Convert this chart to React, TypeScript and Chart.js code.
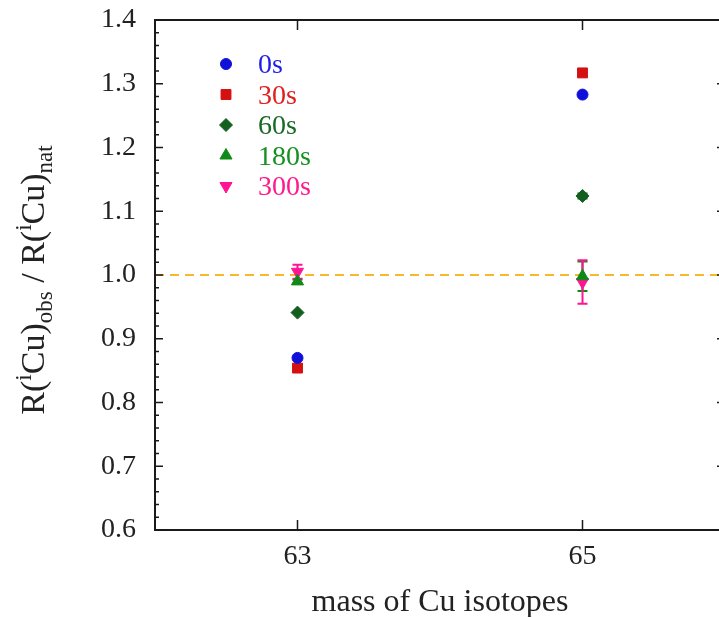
import React, { useEffect, useRef } from 'react';
import { Chart, registerables } from 'chart.js';
import { drawPoint } from 'chart.js/helpers';

Chart.register(...registerables);

// ---------- data ----------
const isotopeMasses = [63, 65];
const seriesLabels = ['0s', '30s', '60s', '180s', '300s'];
const values0s = [0.87, 1.283];
const values30s = [0.854, 1.317];
const values60s = [0.941, 1.124];
const values180s = [0.99, 0.998];
const values300s = [1.005, 0.989];
const errors0s = [0, 0];
const errors30s = [0, 0];
const errors60s = [0, 0.004];
const errors180s = [0.003, 0.023];
const errors300s = [0.011, 0.034];
const yTickValues = [0.6, 0.7, 0.8, 0.9, 1.0, 1.1, 1.2, 1.3, 1.4];
const xTickValues = [63, 65];
const referenceLevel = 1.0;

// ---------- styles ----------
const markerColors = ['#1010d8', '#d41010', '#13601e', '#0f8a17', '#ff1493'];
const textColors = ['#1f1fe6', '#e02020', '#1a6a25', '#169020', '#ff1a8c'];
const pointStyles: any[] = ['circle', 'rect', 'rectRot', 'triangle', 'triangle'];
const pointRotations = [0, 0, 0, 0, 180];
const pointRadii = [5.5, 7, 6.5, 7, 7];
const SERIF = '"Liberation Serif", "Times New Roman", serif';

const seriesValues = [values0s, values30s, values60s, values180s, values300s];
const seriesErrors = [errors0s, errors30s, errors60s, errors180s, errors300s];

const decorPlugin = {
  id: 'decor',
  beforeDatasetsDraw(chart: any) {
    const { ctx, chartArea, scales } = chart;
    const xs = scales.x;
    const ys = scales.y;
    ctx.save();
    const yRef = ys.getPixelForValue(referenceLevel);
    ctx.strokeStyle = '#f7b928';
    ctx.lineWidth = 2;
    ctx.setLineDash([9, 6]);
    ctx.beginPath();
    ctx.moveTo(chartArea.left, yRef);
    ctx.lineTo(chartArea.right, yRef);
    ctx.stroke();
    ctx.setLineDash([]);
    seriesErrors.forEach((errs, si) => {
      errs.forEach((e, i) => {
        if (!e) return;
        const x = xs.getPixelForValue(isotopeMasses[i]);
        const v = seriesValues[si][i];
        const yTop = ys.getPixelForValue(v + e);
        const yBot = ys.getPixelForValue(v - e);
        ctx.strokeStyle = markerColors[si];
        ctx.lineWidth = 2;
        ctx.beginPath();
        ctx.moveTo(x, yTop);
        ctx.lineTo(x, yBot);
        ctx.moveTo(x - 5, yTop);
        ctx.lineTo(x + 5, yTop);
        ctx.moveTo(x - 5, yBot);
        ctx.lineTo(x + 5, yBot);
        ctx.stroke();
      });
    });
    ctx.restore();
  },
  afterDraw(chart: any) {
    const { ctx, chartArea, scales } = chart;
    const { left, right, top, bottom } = chartArea;
    const xs = scales.x;
    const ys = scales.y;
    ctx.save();
    ctx.strokeStyle = '#1a1a1a';
    ctx.lineWidth = 2;
    ctx.strokeRect(left, top, right - left, bottom - top);
    ctx.lineWidth = 1.5;
    ctx.beginPath();
    for (let k = 0; k <= 40; k++) {
      const v = 0.6 + k * 0.02;
      const y = ys.getPixelForValue(v);
      const len = k % 5 === 0 ? 8 : 4;
      ctx.moveTo(left, y);
      ctx.lineTo(left + len, y);
      ctx.moveTo(right, y);
      ctx.lineTo(right - len, y);
    }
    xTickValues.forEach((v) => {
      const x = xs.getPixelForValue(v);
      ctx.moveTo(x, bottom);
      ctx.lineTo(x, bottom - 10);
      ctx.moveTo(x, top);
      ctx.lineTo(x, top + 10);
    });
    ctx.stroke();

    // legend
    ctx.textBaseline = 'middle';
    ctx.textAlign = 'left';
    ctx.font = '28px ' + SERIF;
    seriesLabels.forEach((lab, i) => {
      const y = 64 + i * 30.5;
      const style = {
        pointStyle: pointStyles[i],
        radius: pointRadii[i],
        rotation: pointRotations[i],
        borderWidth: 1,
      };
      ctx.fillStyle = markerColors[i];
      ctx.strokeStyle = markerColors[i];
      ctx.lineWidth = 1;
      drawPoint(ctx, style as any, 226, y);
      ctx.fillStyle = textColors[i];
      ctx.fillText(lab, 258, y + 2);
    });

    // y title with super/subscripts
    const pieces = [
      { t: 'R(', k: 'n' },
      { t: 'i', k: 'sup' },
      { t: 'Cu)', k: 'n' },
      { t: 'obs', k: 'sub' },
      { t: ' / R(', k: 'n' },
      { t: 'i', k: 'sup' },
      { t: 'Cu)', k: 'n' },
      { t: 'nat', k: 'sub' },
    ];
    const fontFor = (k: string) => (k === 'n' ? '34px ' : '23px ') + SERIF;
    const offFor = (k: string) => (k === 'sup' ? -13 : k === 'sub' ? 8 : 0);
    let total = 0;
    pieces.forEach((p) => {
      ctx.font = fontFor(p.k);
      total += ctx.measureText(p.t).width;
    });
    ctx.translate(44, 280);
    ctx.rotate(-Math.PI / 2);
    ctx.fillStyle = '#222';
    ctx.textBaseline = 'alphabetic';
    let cx = -total / 2;
    pieces.forEach((p) => {
      ctx.font = fontFor(p.k);
      ctx.fillText(p.t, cx, offFor(p.k));
      cx += ctx.measureText(p.t).width;
    });
    ctx.restore();

    // x title
    ctx.save();
    ctx.font = '32px ' + SERIF;
    ctx.fillStyle = '#222';
    ctx.textAlign = 'center';
    ctx.textBaseline = 'alphabetic';
    ctx.fillText('mass of Cu isotopes', (left + right) / 2, 611);
    ctx.restore();
  },
};

export default function App() {
  const ref = useRef<HTMLCanvasElement | null>(null);
  useEffect(() => {
    if (!ref.current) return;
    const datasets = seriesLabels.map((lab, i) => ({
      label: lab,
      data: isotopeMasses.map((m, j) => ({ x: m, y: seriesValues[i][j] })),
      pointStyle: pointStyles[i],
      pointRotation: pointRotations[i],
      pointRadius: pointRadii[i],
      pointBackgroundColor: markerColors[i],
      pointBorderColor: markerColors[i],
      pointBorderWidth: 1,
      showLine: false,
    }));
    const chart = new Chart(ref.current, {
      type: 'scatter',
      data: { datasets },
      plugins: [decorPlugin],
      options: {
        animation: false,
        responsive: false,
        devicePixelRatio: 1,
        layout: { padding: { top: 20, right: 35, left: 0, bottom: 0 } },
        plugins: { legend: { display: false }, tooltip: { enabled: false } },
        scales: {
          x: {
            type: 'linear',
            min: 62,
            max: 66,
            grid: { display: false },
            border: { display: false },
            afterBuildTicks: (s: any) => {
              s.ticks = xTickValues.map((v) => ({ value: v }));
            },
            afterFit: (s: any) => {
              s.height = 87;
              s.paddingLeft = 0;
              s.paddingRight = 0;
            },
            ticks: {
              font: { family: SERIF, size: 28 },
              color: '#222',
              padding: 2,
              maxRotation: 0,
              callback: (v: any) => String(v),
            },
          },
          y: {
            min: 0.6,
            max: 1.4,
            grid: { display: false },
            border: { display: false },
            afterBuildTicks: (s: any) => {
              s.ticks = yTickValues.map((v) => ({ value: v }));
            },
            afterFit: (s: any) => {
              s.width = 155;
              s.paddingTop = 0;
              s.paddingBottom = 0;
            },
            ticks: {
              font: { family: SERIF, size: 28 },
              color: '#222',
              padding: 11,
              callback: (v: any) => Number(v).toFixed(1),
            },
          },
        },
      } as any,
    });
    return () => chart.destroy();
  }, []);
  return (
    <div
      style={{
        position: 'fixed',
        left: 0,
        top: 0,
        width: 719,
        height: 617,
        overflow: 'hidden',
        background: '#fff',
      }}
    >
      <canvas ref={ref} width={760} height={617} style={{ display: 'block' }} />
    </div>
  );
}
